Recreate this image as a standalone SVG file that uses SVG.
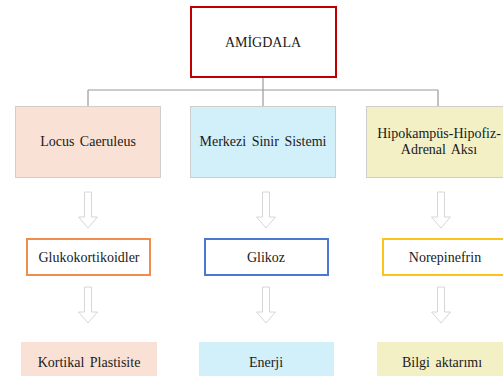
<svg xmlns="http://www.w3.org/2000/svg" width="503" height="376" viewBox="0 0 503 376">
<defs>
<path id="arr" d="M-3.5,0 H3.5 V25 H9.5 L0,36 L-9.5,25 H-3.5 Z" fill="#ffffff" stroke="#d6d6d6" stroke-width="1"/>
</defs>
<style>
text{font-size:14px;fill:#1a1a1a;text-anchor:middle;word-spacing:2px}
.l1{stroke:#d0cdcb;stroke-width:1}
.l2{fill:#ffffff;stroke-width:2}
.conn{fill:none;stroke:#9a9a9a;stroke-width:1.2}
</style>
<rect width="503" height="376" fill="#ffffff"/>
<g id="connectors">
<path class="conn" d="M263,77 V90 M88,90 H438 M88,90 V106 M263,90 V106 M438,90 V106"/>
<use href="#arr" x="88" y="192"/>
<use href="#arr" x="266" y="192"/>
<use href="#arr" x="441" y="192"/>
<use href="#arr" x="88" y="287"/>
<use href="#arr" x="266" y="287"/>
<use href="#arr" x="441" y="287"/>
</g>
<g font-family="Liberation Serif, Times New Roman, serif">
<g id="amigdala">
<rect x="191" y="7" width="145" height="70" fill="#ffffff" stroke="#c00000" stroke-width="2"/>
<text x="263" y="47">AMİGDALA</text>
</g>
<g id="locus">
<rect class="l1" x="15.5" y="106.5" width="145" height="71" fill="#f9e2d5"/>
<text x="88" y="146">Locus Caeruleus</text>
</g>
<g id="merkezi">
<rect class="l1" x="190.5" y="106.5" width="145" height="71" fill="#d2f0fa"/>
<text x="263" y="146">Merkezi Sinir Sistemi</text>
</g>
<g id="hipo">
<rect class="l1" x="366.5" y="106.5" width="146" height="71" fill="#f3f0c6"/>
<text x="439" y="138">Hipokampüs-Hipofiz-</text>
<text x="439" y="154">Adrenal Aksı</text>
</g>
<g id="gluko">
<rect class="l2" x="27" y="239" width="123" height="36" stroke="#f28c4a"/>
<text x="89" y="262">Glukokortikoidler</text>
</g>
<g id="glikoz">
<rect class="l2" x="205" y="239" width="123" height="36" stroke="#4a78d0"/>
<text x="266" y="262">Glikoz</text>
</g>
<g id="norepinefrin">
<rect class="l2" x="383" y="239" width="124" height="36" stroke="#fcc419"/>
<text x="445" y="262">Norepinefrin</text>
</g>
<g id="kortikal">
<rect x="21" y="342" width="136" height="40" fill="#f9e2d5"/>
<text x="89" y="367">Kortikal Plastisite</text>
</g>
<g id="enerji">
<rect x="199" y="342" width="135" height="40" fill="#d2f0fa"/>
<text x="266" y="367">Enerji</text>
</g>
<g id="bilgi">
<rect x="377" y="342" width="135" height="40" fill="#f3f0c6"/>
<text x="442" y="367">Bilgi aktarımı</text>
</g>
</g>
</svg>
